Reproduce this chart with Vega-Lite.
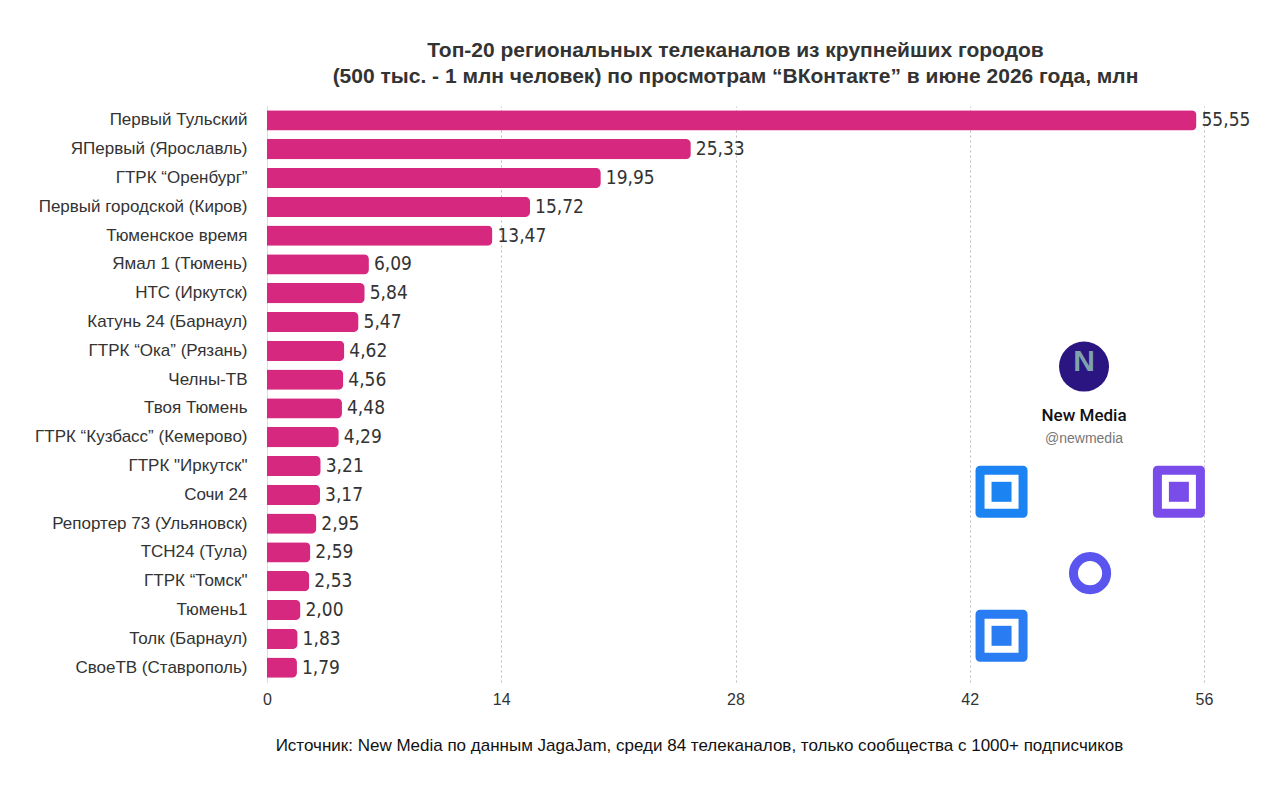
{
  "$schema": "https://vega.github.io/schema/vega-lite/v6.json",
  "autosize": "none",
  "width": 937,
  "height": 576,
  "padding": {"left": 267, "top": 106, "right": 76, "bottom": 123},
  "background": "white",
  "title": {
    "text": ["Топ-20 региональных телеканалов из крупнейших городов", "(500 тыс. - 1 млн человек) по просмотрам “ВКонтакте” в июне 2026 года, млн"],
    "anchor": "middle",
    "font": "Liberation Sans",
    "fontSize": 21,
    "fontWeight": "bold",
    "color": "#333333",
    "lineHeight": 26,
    "offset": 19
  },
  "datasets": {
    "channels": [
      {"channel": "Первый Тульский", "v": 55.55},
      {"channel": "ЯПервый (Ярославль)", "v": 25.33},
      {"channel": "ГТРК “Оренбург”", "v": 19.95},
      {"channel": "Первый городской (Киров)", "v": 15.72},
      {"channel": "Тюменское время", "v": 13.47},
      {"channel": "Ямал 1 (Тюмень)", "v": 6.09},
      {"channel": "НТС (Иркутск)", "v": 5.84},
      {"channel": "Катунь 24 (Барнаул)", "v": 5.47},
      {"channel": "ГТРК “Ока” (Рязань)", "v": 4.62},
      {"channel": "Челны-ТВ", "v": 4.56},
      {"channel": "Твоя Тюмень", "v": 4.48},
      {"channel": "ГТРК “Кузбасс” (Кемерово)", "v": 4.29},
      {"channel": "ГТРК \"Иркутск\"", "v": 3.21},
      {"channel": "Сочи 24", "v": 3.17},
      {"channel": "Репортер 73 (Ульяновск)", "v": 2.95},
      {"channel": "ТСН24 (Тула)", "v": 2.59},
      {"channel": "ГТРК “Томск\"", "v": 2.53},
      {"channel": "Тюмень1", "v": 2.00},
      {"channel": "Толк (Барнаул)", "v": 1.83},
      {"channel": "СвоеТВ (Ставрополь)", "v": 1.79}
    ],
    "badge": [
      {"channel": "Челны-ТВ", "v": 48.83, "name": "New Media", "handle": "@newmedia"}
    ],
    "qr": [
      {"channel": "Сочи 24", "v": 43.9, "corner": "tl"},
      {"channel": "Сочи 24", "v": 54.5, "corner": "tr"},
      {"channel": "Толк (Барнаул)", "v": 43.9, "corner": "bl"}
    ],
    "qrcenter": [
      {"channel": "ГТРК “Томск\"", "v": 49.19}
    ]
  },
  "encoding": {
    "y": {
      "field": "channel",
      "type": "nominal",
      "sort": ["Первый Тульский", "ЯПервый (Ярославль)", "ГТРК “Оренбург”", "Первый городской (Киров)", "Тюменское время", "Ямал 1 (Тюмень)", "НТС (Иркутск)", "Катунь 24 (Барнаул)", "ГТРК “Ока” (Рязань)", "Челны-ТВ", "Твоя Тюмень", "ГТРК “Кузбасс” (Кемерово)", "ГТРК \"Иркутск\"", "Сочи 24", "Репортер 73 (Ульяновск)", "ТСН24 (Тула)", "ГТРК “Томск\"", "Тюмень1", "Толк (Барнаул)", "СвоеТВ (Ставрополь)"],
      "scale": {"paddingInner": 0.3, "paddingOuter": 0.15},
      "axis": {
        "title": null,
        "ticks": false,
        "labelPadding": 20,
        "labelFont": "Liberation Sans",
        "labelFontSize": 17,
        "labelColor": "#333333",
        "domainColor": "#dddddd",
        "labelLimit": 320
      }
    },
    "x": {
      "field": "v",
      "type": "quantitative",
      "scale": {"domain": [0, 56], "nice": false},
      "axis": {
        "values": [0, 14, 28, 42, 56],
        "title": "Источник: New Media по данным JagaJam, среди 84 телеканалов, только сообщества с 1000+ подписчиков",
        "titleFont": "Liberation Sans",
        "titleFontSize": 17,
        "titleFontWeight": "normal",
        "titleColor": "#111111",
        "titleX": 432,
        "titlePadding": 30,
        "labelFont": "Liberation Sans",
        "labelFontSize": 16,
        "labelColor": "#333333",
        "labelPadding": 9,
        "labelFlush": false,
        "ticks": false,
        "domain": false,
        "grid": true,
        "gridColor": "#bbbbbb",
        "gridDash": [2, 3],
        "format": "d"
      }
    }
  },
  "layer": [
    {
      "data": {"name": "channels"},
      "mark": {"type": "bar", "color": "#D6287E", "cornerRadiusEnd": 5}
    },
    {
      "data": {"name": "channels"},
      "mark": {"type": "text", "align": "left", "baseline": "middle", "dx": 5, "font": "DejaVu Sans Condensed", "fontSize": 19, "color": "#333333"},
      "encoding": {"text": {"field": "v", "type": "quantitative", "format": ".2f"}}
    },
    {
      "data": {"name": "badge"},
      "mark": {"type": "point", "shape": "circle", "filled": true, "size": 2500, "color": "#2B1581", "opacity": 1, "yOffset": -13}
    },
    {
      "data": {"name": "badge"},
      "mark": {"type": "text", "text": "N", "font": "Liberation Sans", "fontWeight": "bold", "fontSize": 30, "color": "#7FA3AD", "yOffset": -18, "baseline": "middle"}
    },
    {
      "data": {"name": "badge"},
      "mark": {"type": "text", "font": "Roboto", "fontWeight": 500, "fontSize": 17, "color": "#111111", "yOffset": 36, "baseline": "middle"},
      "encoding": {"text": {"field": "name"}}
    },
    {
      "data": {"name": "badge"},
      "mark": {"type": "text", "font": "Liberation Sans", "fontSize": 14, "color": "#777777", "yOffset": 59, "baseline": "middle"},
      "encoding": {"text": {"field": "handle"}}
    },
    {
      "data": {"name": "qr"},
      "mark": {"type": "point", "shape": "square", "filled": false, "size": 1849, "strokeWidth": 9, "strokeJoin": "round", "opacity": 1, "yOffset": -3},
      "encoding": {
        "color": {"field": "corner", "type": "nominal", "scale": {"domain": ["tl", "tr", "bl"], "range": ["#1C84F2", "#7A4DEB", "#2A7CF2"]}, "legend": null}
      }
    },
    {
      "data": {"name": "qr"},
      "mark": {"type": "point", "shape": "square", "filled": true, "size": 400, "opacity": 1, "yOffset": -3},
      "encoding": {
        "color": {"field": "corner", "type": "nominal", "legend": null}
      }
    },
    {
      "data": {"name": "qrcenter"},
      "mark": {"type": "point", "shape": "circle", "filled": false, "size": 1100, "strokeWidth": 9, "color": "#5A55EE", "opacity": 1, "yOffset": -8}
    }
  ],
  "config": {
    "view": {"stroke": null},
    "locale": {"number": {"decimal": ",", "thousands": " ", "grouping": [3], "currency": ["", " ₽"]}}
  }
}
